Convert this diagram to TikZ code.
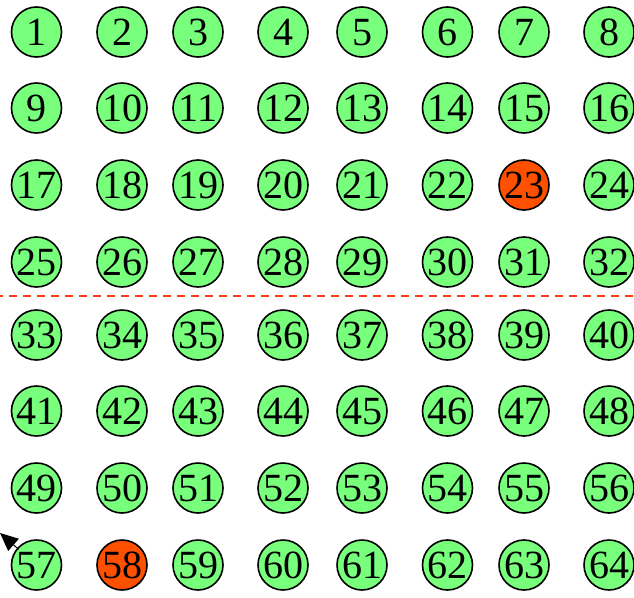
\documentclass[tikz,border=0pt]{standalone}
\usepackage{fontspec}
\setmainfont{Liberation Serif}
\usetikzlibrary{arrows.meta}
\definecolor{cgreen}{RGB}{120,255,124}
\definecolor{cred}{RGB}{255,80,0}
\definecolor{cdash}{RGB}{255,60,20}
\tikzset{
  cell/.style={circle, draw=black, line width=1.6pt, fill=cgreen, minimum size=50pt, inner sep=0pt,
    font=\fontsize{40}{40}\selectfont, text height=27pt, text depth=-6pt},
  hot/.style={cell, fill=cred},
}
\begin{document}
\begin{tikzpicture}[x=1pt,y=-1pt]
\useasboundingbox (0,0) rectangle (634,597);
\def\xs{{36.5,122,198,283,362,447.5,524,609}}
\def\ys{{32,108,185,262,335,411,488,565}}
\foreach \r in {0,...,7}{
  \foreach \c in {0,...,7}{
    \pgfmathsetmacro{\px}{\xs[\c]}
    \pgfmathsetmacro{\py}{\ys[\r]}
    \pgfmathtruncatemacro{\n}{\r*8+\c+1}
    \ifnum\n=23 \def\st{hot}\else\ifnum\n=58 \def\st{hot}\else\def\st{cell}\fi\fi
    \node[\st] (n\n) at (\px,\py) {\n};
  }
}
\coordinate (L) at (-5,296);
\coordinate (R) at (640,296);
\draw[cdash, line width=1.3pt, dash pattern=on 8pt off 6pt] (L) -- (R);
\coordinate (out) at (0,533);
\draw[-{Triangle[length=18pt,width=16pt]}, line width=1pt, shorten <=-2pt] (n57) -- (out);
\end{tikzpicture}
\end{document}
